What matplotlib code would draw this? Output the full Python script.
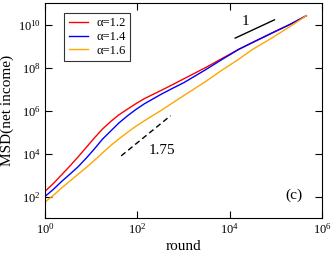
import numpy as np
import matplotlib
matplotlib.use('Agg')
import matplotlib.pyplot as plt
from matplotlib.ticker import FixedLocator, FuncFormatter

plt.rcParams['font.family'] = 'Liberation Serif'
plt.rcParams['mathtext.fontset'] = 'custom'
plt.rcParams['mathtext.rm'] = 'Liberation Serif'

# --- data (log10 values) ---
log_round = [0, 0.18, 0.36, 0.54, 0.72, 0.9, 1.08, 1.25, 1.43, 1.6, 1.79, 1.97, 2.15, 2.51, 2.76, 3.01,
             3.48, 3.8, 4.19, 4.5, 4.91, 5.3, 5.66]
log_msd_12 = [2.24, 2.6, 3.01, 3.42, 3.85, 4.3, 4.75, 5.15, 5.5, 5.8, 6.07, 6.32, 6.55, 6.93, 7.2, 7.48,
              8.0, 8.38, 8.84, 9.17, 9.60, 10.0, 10.41]
log_msd_14 = [2.0, 2.33, 2.70, 3.04, 3.39, 3.8, 4.24, 4.68, 5.06, 5.42, 5.76, 6.05, 6.31, 6.75, 7.03, 7.3,
              7.9, 8.33, 8.84, 9.17, 9.60, 10.0, 10.41]
log_msd_16 = [1.74, 2.05, 2.40, 2.72, 3.04, 3.36, 3.70, 4.04, 4.38, 4.68, 4.99, 5.27, 5.52, 6.0, 6.35, 6.70,
              7.35, 7.83, 8.38, 8.85, 9.37, 9.9, 10.41]
labels = ['α=1.2', 'α=1.4', 'α=1.6']
colors = ['red', 'blue', 'orange']

# guide lines: slope 1 and 1.75
guide1_x = [4.12, 4.97]
guide1_y = [9.37, 10.22]
guide175_x = [1.65, 2.72]
guide175_y = [3.89, 5.76]

fig = plt.figure(figsize=(3.32, 2.54), dpi=100)
ax = fig.add_axes([0.1355, 0.1417, 0.8345, 0.8463])

x = 10 ** np.array(log_round)
for ys, lab, c in zip([log_msd_12, log_msd_14, log_msd_16], labels, colors):
    ax.plot(x, 10 ** np.array(ys), color=c, lw=1.0, label=lab)

ax.plot(10 ** np.array(guide1_x), 10 ** np.array(guide1_y), color='black', lw=1.0)
ax.plot(10 ** np.array(guide175_x), 10 ** np.array(guide175_y), color='black', lw=1.0, ls=(0, (4, 2.5)))
ax.text(10 ** 4.34, 10 ** 10.14, '1', fontsize=11, ha='center', va='center')
ax.text(10 ** 2.54, 10 ** 4.16, '1.75', fontsize=11, ha='center', va='center')
ax.text(10 ** 5.4, 10 ** 2.05, '(c)', fontsize=11, ha='center', va='center')

ax.set_xscale('log')
ax.set_yscale('log')
ax.set_xlim(1, 1e6)
ax.set_ylim(1e1, 1e11)

fmt = FuncFormatter(lambda v, p: r'$\mathregular{10^{%d}}$' % round(np.log10(v)))
ax.xaxis.set_major_locator(FixedLocator([1, 1e2, 1e4, 1e6]))
ax.yaxis.set_major_locator(FixedLocator([1e2, 1e4, 1e6, 1e8, 1e10]))
ax.xaxis.set_minor_locator(FixedLocator([]))
ax.yaxis.set_minor_locator(FixedLocator([]))
ax.xaxis.set_major_formatter(fmt)
ax.yaxis.set_major_formatter(fmt)
ax.tick_params(direction='in', top=True, right=True, length=5, width=0.8, labelsize=9, pad=3)

ax.set_xlabel('round', fontsize=11, labelpad=2)
ax.set_ylabel('MSD(net income)', fontsize=11, labelpad=3)

leg = ax.legend(loc='upper left', bbox_to_anchor=(0.07, 0.955), fontsize=9, frameon=True,
                fancybox=False, edgecolor='black', handlelength=1.5, handletextpad=0.7,
                borderpad=0.35, labelspacing=0.15, borderaxespad=0)
leg.get_frame().set_linewidth(0.8)

fig.savefig('out.png', dpi=100)
